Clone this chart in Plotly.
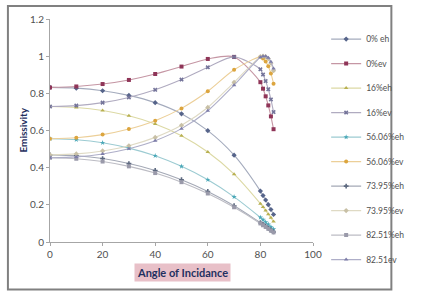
import plotly.graph_objects as go

angles = [0, 10, 20, 30, 40, 50, 60, 70, 80, 81, 82, 83, 84, 85]

e0_eh = [0.832, 0.828, 0.814, 0.789, 0.750, 0.690, 0.599, 0.467, 0.274, 0.250, 0.226, 0.201, 0.175, 0.148]
e0_ev = [0.832, 0.837, 0.850, 0.872, 0.904, 0.944, 0.985, 0.996, 0.860, 0.825, 0.784, 0.735, 0.676, 0.607]
e16_eh = [0.729, 0.724, 0.708, 0.679, 0.635, 0.572, 0.484, 0.365, 0.206, 0.188, 0.169, 0.150, 0.130, 0.110]
e16_ev = [0.729, 0.734, 0.750, 0.778, 0.819, 0.874, 0.940, 0.996, 0.929, 0.901, 0.866, 0.822, 0.767, 0.699]
e56_eh = [0.556, 0.550, 0.534, 0.505, 0.464, 0.407, 0.335, 0.243, 0.132, 0.120, 0.107, 0.095, 0.082, 0.069]
e56_ev = [0.556, 0.561, 0.578, 0.608, 0.653, 0.719, 0.811, 0.927, 0.996, 0.987, 0.971, 0.946, 0.907, 0.852]
e74_eh = [0.469, 0.464, 0.449, 0.422, 0.385, 0.335, 0.272, 0.195, 0.104, 0.095, 0.085, 0.075, 0.064, 0.054]
e74_ev = [0.469, 0.474, 0.490, 0.518, 0.563, 0.628, 0.724, 0.859, 0.997, 1.000, 0.997, 0.986, 0.962, 0.922]
e83_eh = [0.453, 0.448, 0.433, 0.407, 0.371, 0.322, 0.261, 0.187, 0.100, 0.090, 0.081, 0.071, 0.061, 0.052]
e83_ev = [0.453, 0.458, 0.474, 0.502, 0.545, 0.610, 0.706, 0.844, 0.994, 0.999, 0.999, 0.991, 0.970, 0.933]

names = ["0% eh", "0%ev", "16%eh", "16%ev", "56.06%eh", "56.06%ev",
         "73.95%eh", "73.95%ev", "82.51%eh", "82.51ev"]
series = [e0_eh, e0_ev, e16_eh, e16_ev, e56_eh, e56_ev, e74_eh, e74_ev, e83_eh, e83_ev]
line_colors = ["#a4abbd", "#c596a4", "#dcd9a4", "#b0abc0", "#9ccbd2",
               "#eccf98", "#a4a9b6", "#dfdac4", "#bcbcc4", "#aeaec8"]
marker_colors = ["#56648a", "#8f3558", "#b8b050", "#74749a", "#4aa8b8",
                 "#dca53e", "#5e6a80", "#c8c0a6", "#9a9aaa", "#7c7ca8"]
symbols = ["diamond", "square", "triangle-up", "x", "star", "circle",
           "cross", "diamond", "square", "triangle-up"]

fig = go.Figure()
for i, (nm, ys) in enumerate(zip(names, series)):
    fig.add_trace(go.Scatter(
        x=angles, y=ys, name=nm, mode="lines+markers",
        line=dict(color=line_colors[i], width=1.1, shape="spline", smoothing=0.8),
        marker=dict(color=marker_colors[i], size=4, symbol=symbols[i]),
        legendgroup=f"g{i}",
    ))

fig.update_layout(
    width=422, height=293,
    margin=dict(l=50, r=89, t=17, b=51),
    paper_bgcolor="white", plot_bgcolor="white",
    font=dict(family="Lato", size=10, color="#505050"),
    showlegend=True,
    legend=dict(x=1.05, xanchor="left", y=0.975, yanchor="top",
                font=dict(family="Liberation Sans Narrow, Lato", size=8.5, color="#505050"),
                tracegroupgap=5.5, itemwidth=30, maxheight=285,
                bgcolor="rgba(0,0,0,0)"),
    xaxis=dict(range=[0, 100], tickvals=[0, 20, 40, 60, 80, 100],
               showline=True, linecolor="#a6a6a6", linewidth=1,
               ticks="outside", ticklen=3, tickcolor="#a6a6a6",
               showgrid=False, zeroline=False),
    yaxis=dict(range=[0, 1.2], tickvals=[0, 0.2, 0.4, 0.6, 0.8, 1, 1.2],
               ticktext=["0", "0.2", "0.4", "0.6", "0.8", "1", "1.2"],
               showline=True, linecolor="#a6a6a6", linewidth=1,
               ticks="outside", ticklen=3, tickcolor="#a6a6a6",
               showgrid=False, zeroline=False),
    shapes=[dict(type="rect", xref="paper", yref="paper", layer="above",
                 x0=-0.160, x1=1.298, y0=-0.213, y1=1.058,
                 line=dict(color="#808080", width=2))],
)

fig.add_annotation(x=0.502, y=-0.138, xref="paper", yref="paper",
                   xanchor="center", yanchor="middle",
                   text="<b>Angle of Incidance</b>", showarrow=False,
                   font=dict(size=11, color="#1f3060"),
                   bgcolor="#e8c0c8", borderpad=2)
fig.add_annotation(x=-0.106, y=0.5, xref="paper", yref="paper",
                   xanchor="center", yanchor="middle",
                   text="<b>Emissivity</b>", showarrow=False, textangle=-90,
                   font=dict(size=10, color="#1f3060"))

fig.write_html("out.html")
